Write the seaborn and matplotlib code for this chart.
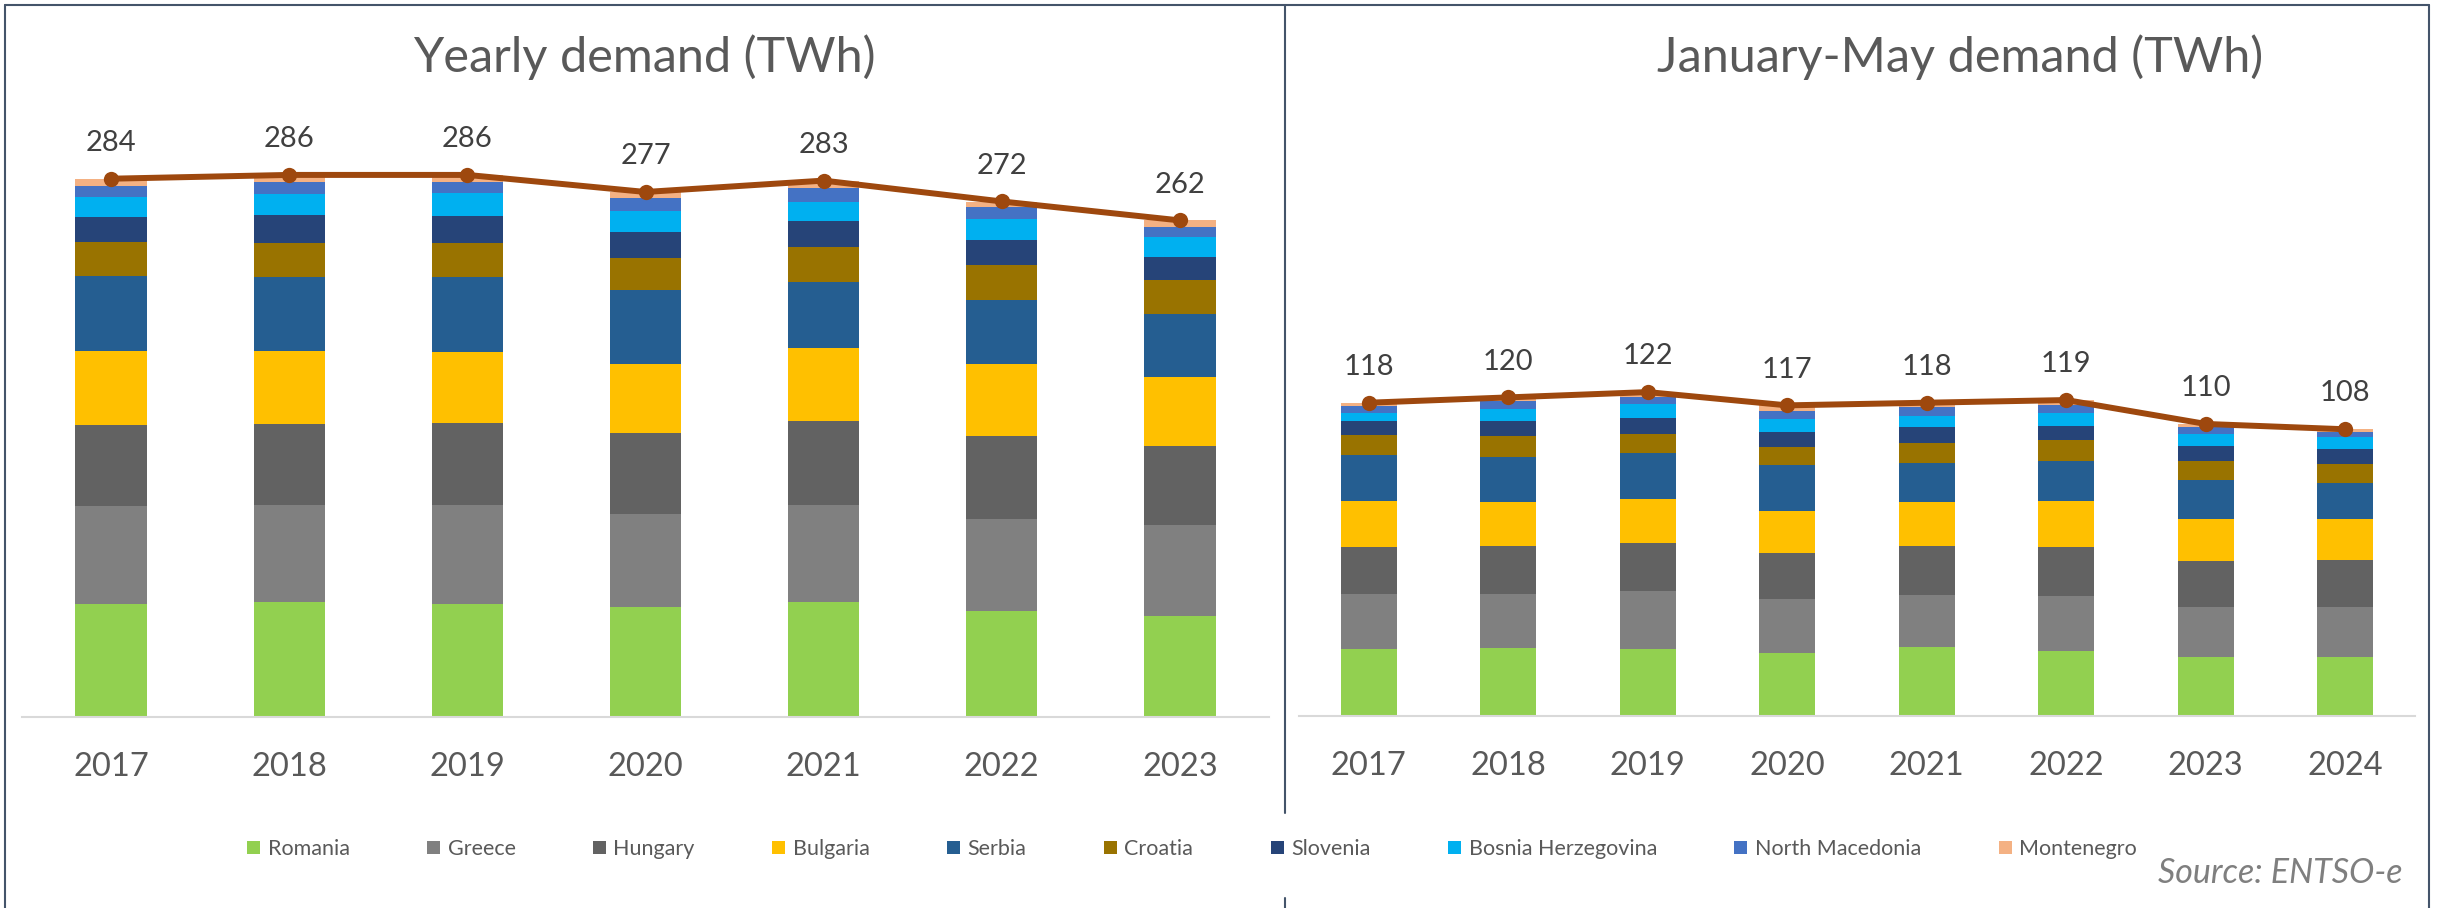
import numpy as np
import pandas as pd
import matplotlib
matplotlib.use("Agg")
import matplotlib.pyplot as plt
from matplotlib.patches import Patch
from matplotlib.lines import Line2D
import seaborn as sns

# ---------------- data ----------------
countries = ["Romania", "Greece", "Hungary", "Bulgaria", "Serbia", "Croatia",
             "Slovenia", "Bosnia Herzegovina", "North Macedonia", "Montenegro"]
colors = ["#92D050", "#808080", "#626262", "#FFC000", "#255E91", "#997300",
          "#264478", "#00B0F0", "#4472C4", "#F4B183"]

years_y = ["2017", "2018", "2019", "2020", "2021", "2022", "2023"]
romania_y = [59.5, 60.5, 59.7, 57.8, 60.5, 55.8, 53.1]
greece_y = [51.7, 51.1, 51.9, 49.2, 51.1, 48.8, 48.0]
hungary_y = [42.9, 43.1, 43.3, 42.7, 44.7, 43.5, 42.0]
bulgaria_y = [38.8, 38.6, 37.7, 36.3, 38.5, 37.9, 36.3]
serbia_y = [39.6, 38.8, 39.4, 39.4, 34.7, 34.2, 33.2]
croatia_y = [18.2, 18.2, 18.0, 17.0, 18.3, 18.2, 18.0]
slovenia_y = [13.1, 14.4, 14.1, 13.3, 13.9, 13.5, 11.9]
bosnia_y = [10.3, 11.3, 12.1, 11.5, 10.2, 10.7, 10.7]
macedonia_y = [5.9, 6.4, 5.9, 6.6, 7.4, 6.6, 5.5]
montenegro_y = [3.9, 3.3, 3.9, 3.1, 3.7, 2.7, 3.3]
total_y = [284, 286, 286, 277, 283, 272, 262]

years_m = ["2017", "2018", "2019", "2020", "2021", "2022", "2023", "2024"]
romania_m = [25.1, 25.6, 25.4, 23.9, 25.9, 24.4, 22.2, 22.1]
greece_m = [21.0, 20.5, 21.5, 20.1, 19.6, 20.7, 18.7, 18.8]
hungary_m = [17.7, 18.1, 18.1, 17.4, 18.6, 18.6, 17.4, 17.7]
bulgaria_m = [17.2, 16.3, 16.7, 15.9, 16.4, 17.2, 15.8, 15.6]
serbia_m = [17.4, 17.1, 17.3, 17.2, 14.8, 15.1, 14.7, 13.7]
croatia_m = [7.3, 7.7, 7.4, 6.9, 7.7, 7.8, 7.4, 7.2]
slovenia_m = [5.4, 5.9, 5.9, 5.6, 5.8, 5.6, 5.4, 5.3]
bosnia_m = [3.1, 4.6, 5.4, 4.9, 4.3, 4.6, 4.6, 4.5]
macedonia_m = [2.4, 2.9, 2.5, 2.8, 3.1, 3.0, 2.5, 2.1]
montenegro_m = [1.4, 1.4, 1.9, 2.3, 1.9, 2.0, 1.1, 1.0]
total_m = [118, 120, 122, 117, 118, 119, 110, 108]

title_y = "Yearly demand (TWh)"
title_m = "January-May demand (TWh)"
source_text = "Source: ENTSO-e"

# ---------------- style ----------------
sns.set_theme(style="white")
plt.rcParams["font.family"] = ["Lato", "DejaVu Sans"]

W, H, DPI = 2443, 908, 100
fig = plt.figure(figsize=(W / DPI, H / DPI), dpi=DPI)
fig.patch.set_facecolor("white")

LINE_COLOR = "#9E480E"
BORDER = "#44546A"


def fx(px):
    return px / W


def fy(py):
    return 1 - py / H


def panel(rect, years, series, totals, ymax):
    ax = fig.add_axes(rect)
    df = pd.DataFrame(dict(zip(countries, series)), index=years)
    cum = df.cumsum(axis=1)
    # draw cumulative sums from the top down so each segment shows
    for name, col in reversed(list(zip(countries, colors))):
        sns.barplot(x=list(years), y=cum[name].values, color=col, saturation=1,
                    width=0.4, errorbar=None, linewidth=0, ax=ax)
    pos = np.arange(len(years))
    sns.lineplot(x=pos, y=totals, color=LINE_COLOR, linewidth=4.3, marker="o",
                 markersize=11, markeredgewidth=0, ax=ax, zorder=5)
    for p, t in zip(pos, totals):
        ax.annotate(str(t), (p, t), xytext=(0, 20), textcoords="offset points",
                    ha="center", va="baseline", fontsize=21, color="#404040")
    ax.set_xlim(-0.5, len(years) - 0.5)
    ax.set_ylim(0, ymax)
    ax.set_yticks([])
    ax.set_xlabel("")
    ax.set_ylabel("")
    for s in ["top", "left", "right"]:
        ax.spines[s].set_visible(False)
    ax.spines["bottom"].set_color("#D9D9D9")
    ax.spines["bottom"].set_linewidth(1.5)
    ax.tick_params(axis="x", length=0, pad=25, labelsize=23.5, labelcolor="#595959")
    ax.set_facecolor("none")
    return ax


# left panel: x 22..1269, baseline 717, 1.8954 px/TWh
top_px = 100
ax1 = panel([fx(22), fy(717), fx(1247), (717 - top_px) / H], years_y,
            [romania_y, greece_y, hungary_y, bulgaria_y, serbia_y, croatia_y,
             slovenia_y, bosnia_y, macedonia_y, montenegro_y], total_y,
            (717 - top_px) / 1.8954)
# right panel: x 1299..2415, baseline 716, 2.655 px/TWh
ax2 = panel([fx(1299), fy(716), fx(1116), (716 - top_px) / H], years_m,
            [romania_m, greece_m, hungary_m, bulgaria_m, serbia_m, croatia_m,
             slovenia_m, bosnia_m, macedonia_m, montenegro_m], total_m,
            (716 - top_px) / 2.655)

# titles
fig.text(fx(644), fy(72), title_y, ha="center", va="baseline", fontsize=35,
         color="#595959")
fig.text(fx(1960), fy(72), title_m, ha="center", va="baseline", fontsize=35,
         color="#595959")

# borders
lw_b = 1.5
fig.add_artist(Line2D([fx(5), fx(2429)], [fy(4.5), fy(4.5)], color=BORDER, lw=lw_b))
fig.add_artist(Line2D([fx(5), fx(5)], [fy(4.5), fy(908)], color=BORDER, lw=lw_b))
fig.add_artist(Line2D([fx(2429), fx(2429)], [fy(4.5), fy(908)], color=BORDER, lw=lw_b))
fig.add_artist(Line2D([fx(1285), fx(1285)], [fy(4.5), fy(813)], color=BORDER, lw=lw_b))
fig.add_artist(Line2D([fx(1285), fx(1285)], [fy(898), fy(908)], color=BORDER, lw=lw_b))

# legend
handles = [Patch(facecolor=c, edgecolor="none", label=n) for n, c in zip(countries, colors)]
fig.legend(handles=handles, loc="center", bbox_to_anchor=(fx(1192), fy(849)),
           ncol=10, frameon=False, fontsize=15.5, handlelength=0.6, handleheight=0.6,
           handletextpad=0.35, columnspacing=3.6, labelcolor="#595959")

fig.text(fx(2403), fy(883), source_text, ha="right", va="baseline", fontsize=24.5,
         color="#7F7F7F", style="italic")

fig.savefig("out.png", dpi=DPI, facecolor="white")
